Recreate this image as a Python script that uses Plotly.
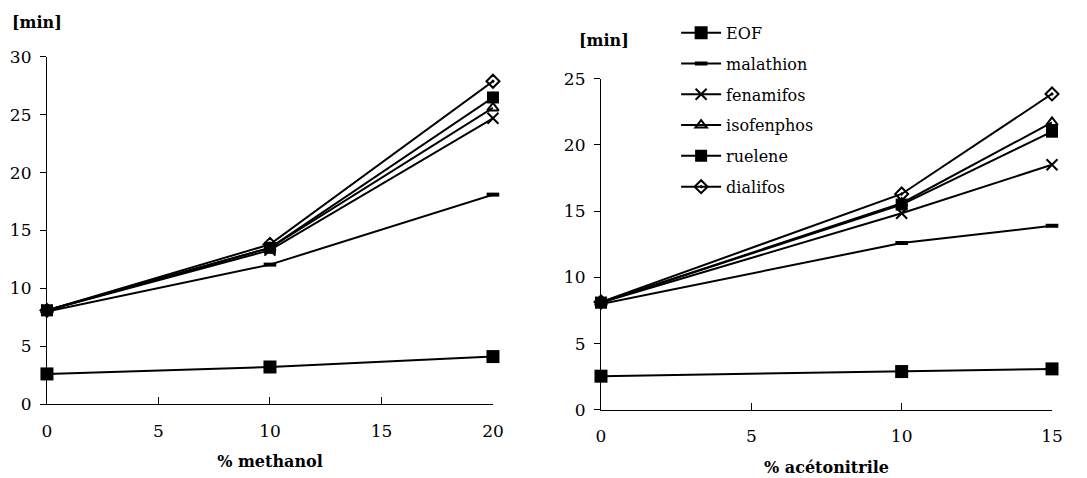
import plotly.graph_objects as go

# ---- data ----
series_names = ["EOF", "malathion", "fenamifos", "isofenphos", "ruelene", "dialifos"]

x_methanol = [0, 10, 20]
methanol_EOF = [2.6, 3.2, 4.1]
methanol_malathion = [8.0, 12.05, 18.1]
methanol_fenamifos = [8.1, 13.3, 24.7]
methanol_isofenphos = [8.1, 13.5, 25.6]
methanol_ruelene = [8.1, 13.5, 26.5]
methanol_dialifos = [8.1, 13.8, 27.9]

x_acetonitrile = [0, 10, 15]
acn_EOF = [2.55, 2.9, 3.1]
acn_malathion = [8.0, 12.6, 13.9]
acn_fenamifos = [8.1, 14.85, 18.5]
acn_isofenphos = [8.1, 15.6, 21.7]
acn_ruelene = [8.1, 15.5, 21.0]
acn_dialifos = [8.15, 16.3, 23.85]

left_ticks_x = [0, 5, 10, 15, 20]
left_ticks_y = [0, 5, 10, 15, 20, 25, 30]
right_ticks_x = [0, 5, 10, 15]
right_ticks_y = [0, 5, 10, 15, 20, 25]

methanol_vals = [methanol_EOF, methanol_malathion, methanol_fenamifos,
                 methanol_isofenphos, methanol_ruelene, methanol_dialifos]
acn_vals = [acn_EOF, acn_malathion, acn_fenamifos, acn_isofenphos, acn_ruelene, acn_dialifos]

# ---- styles ----
markers = {
    "EOF": dict(symbol="square", size=13, color="black"),
    "malathion": dict(symbol="line-ew", size=9, color="black", line=dict(width=4, color="black")),
    "fenamifos": dict(symbol="x-thin", size=11, color="black", line=dict(width=2, color="black")),
    "isofenphos": dict(symbol="triangle-up-open", size=10, color="black", line=dict(width=2, color="black")),
    "ruelene": dict(symbol="square", size=12, color="black"),
    "dialifos": dict(symbol="diamond-open-dot", size=10, color="black", line=dict(width=2, color="black")),
}

SERIF = "DejaVu Serif"
fig = go.Figure()

for name, vals in zip(series_names, methanol_vals):
    fig.add_trace(go.Scatter(x=x_methanol, y=vals, mode="lines+markers", name=name,
                             legendgroup=name,
                             line=dict(color="black", width=2), marker=markers[name],
                             cliponaxis=False, xaxis="x", yaxis="y", showlegend=True))
for name, vals in zip(series_names, acn_vals):
    fig.add_trace(go.Scatter(x=x_acetonitrile, y=vals, mode="lines+markers", name=name,
                             legendgroup=name,
                             line=dict(color="black", width=2), marker=markers[name],
                             cliponaxis=False, xaxis="x2", yaxis="y2", showlegend=False))

tickfont = dict(family=SERIF, size=17, color="black")
common = dict(showgrid=False, zeroline=False, showline=True, linecolor="black", linewidth=1.2,
              tickcolor="black", tickwidth=1.2, tickfont=tickfont, automargin=False)

L_dom_x = [0.0432, 0.4535]
L_dom_y = [0.1548, 0.8808]
R_dom_x = [0.5529, 0.9678]
R_dom_y = [0.1423, 0.8354]

fig.update_layout(
    width=1087, height=478,
    margin=dict(l=0, r=0, t=0, b=0, autoexpand=False),
    paper_bgcolor="white", plot_bgcolor="white",
    font=dict(family=SERIF, color="black"),
    xaxis=dict(domain=L_dom_x, range=[0, 20], anchor="y", tickvals=left_ticks_x,
               ticks="inside", ticklen=7, ticklabelstandoff=11,
               title=dict(text="<b>% methanol</b>", font=dict(family=SERIF, size=16), standoff=16),
               **common),
    yaxis=dict(domain=L_dom_y, range=[0, 30], anchor="x", tickvals=left_ticks_y,
               ticks="outside", ticklen=6, ticklabelstandoff=5, **common),
    yaxis3=dict(domain=L_dom_y, range=[0, 30], overlaying="y", anchor="x", side="left",
                tickvals=left_ticks_y, ticks="inside", ticklen=6, showticklabels=False,
                showgrid=False, zeroline=False, showline=False, tickcolor="black", tickwidth=1.2,
                automargin=False),
    xaxis2=dict(domain=R_dom_x, range=[0, 15], anchor="y2", tickvals=right_ticks_x,
                ticks="inside", ticklen=7, ticklabelstandoff=11,
                title=dict(text="<b>% acétonitrile</b>", font=dict(family=SERIF, size=16), standoff=16),
                **common),
    yaxis2=dict(domain=R_dom_y, range=[0, 25], anchor="x2", tickvals=right_ticks_y,
                ticks="outside", ticklen=6, ticklabelstandoff=5, **common),
    yaxis4=dict(domain=R_dom_y, range=[0, 25], overlaying="y2", anchor="x2", side="left",
                tickvals=right_ticks_y, ticks="inside", ticklen=6, showticklabels=False,
                showgrid=False, zeroline=False, showline=False, tickcolor="black", tickwidth=1.2,
                automargin=False),
    legend=dict(x=0.622, y=0.967, xanchor="left", yanchor="top",
                font=dict(family=SERIF, size=16, color="black"),
                bgcolor="rgba(0,0,0,0)", tracegroupgap=7, itemwidth=40),
    showlegend=True,
)

fig.add_annotation(text="<b>[min]</b>", x=0.009, y=0.953, xref="paper", yref="paper",
                   xanchor="left", yanchor="middle", showarrow=False,
                   font=dict(family=SERIF, size=16, color="black"))
fig.add_annotation(text="<b>[min]</b>", x=0.531, y=0.915, xref="paper", yref="paper",
                   xanchor="left", yanchor="middle", showarrow=False,
                   font=dict(family=SERIF, size=16, color="black"))

fig.write_html("out.html")
